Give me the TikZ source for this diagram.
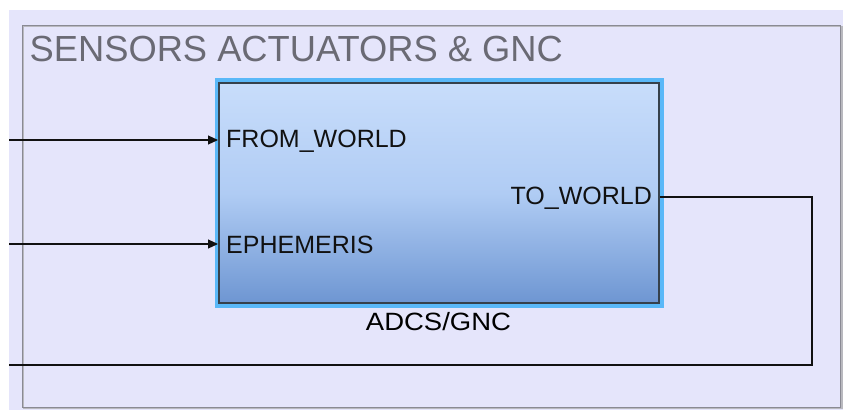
\documentclass[tikz,border=0pt]{standalone}
\usepackage{fontspec}
\setmainfont{Liberation Sans}
\usetikzlibrary{arrows.meta}
\definecolor{canvas}{HTML}{E5E5FB}
\definecolor{framegray}{HTML}{8A8A94}
\definecolor{titlegray}{HTML}{6A6A74}
\definecolor{glowblue}{HTML}{5AB8F8}
\definecolor{blockedge}{HTML}{36414C}
\definecolor{shadetop}{HTML}{C8DDFB}
\definecolor{shademid}{HTML}{B0CCF4}
\definecolor{shadebot}{HTML}{6E96D2}
\definecolor{wire}{HTML}{111111}
\tikzset{
  portlabel/.style={font=\fontsize{25}{28}\selectfont, text=wire, inner sep=0pt},
  signal/.style={draw=wire, line width=1.1pt},
  signalarrow/.style={signal, -{Triangle[length=10pt,width=9pt]}},
}
\begin{document}
\begin{tikzpicture}[x=1pt,y=-1pt]
  \useasboundingbox (0,0) rectangle (843,410);
  % canvas and subsystem area
  \fill[white] (0,0) rectangle (843,410);
  \fill[canvas] (9,10) rectangle (843,410);
  \draw[framegray!60, line width=1.2pt] (23.5,26.5) rectangle (842,408.5);
  \draw[framegray, line width=1.2pt] (22.5,25.5) rectangle (840.5,407.5);
  \node[anchor=base west, inner sep=0pt, text=titlegray,
        font=\fontsize{36.3}{40}\selectfont] (title) at (29.5,61) {SENSORS ACTUATORS \& GNC};

  % ADCS/GNC block: highlight glow, shaded body, dark edge
  \fill[glowblue] (214.5,77.5) rectangle (663.5,308);
  \shade[top color=shadetop, bottom color=shadebot, middle color=shademid]
        (219,83) rectangle (659,303);
  \node[draw=blockedge, line width=2pt, minimum width=440pt, minimum height=220pt,
        inner sep=0pt] (blk) at (439,193) {};
  \node[anchor=base, inner sep=0pt, text=black,
        font=\fontsize{25}{28}\selectfont] (blkname) at (438.5,330)
        {\scalebox{1.1}[1]{ADCS/GNC}};

  % port labels
  \node[portlabel, anchor=base west] (pfrom) at (226,147) {FROM\_WORLD};
  \node[portlabel, anchor=base west] (peph) at (226,253) {EPHEMERIS};
  \node[portlabel, anchor=base east] (pto) at (652,204) {TO\_WORLD};

  % port anchors on the block edge
  \coordinate (inFrom) at (blk.west |- 0,140);
  \coordinate (inEph) at (blk.west |- 0,244);
  \coordinate (outTo) at (blk.east |- 0,197);

  % free wire ends at the canvas edge
  \coordinate (srcFrom) at (9,140);
  \coordinate (srcEph) at (9,244);
  \coordinate (dstTo) at (9,365);

  \draw[signalarrow] (srcFrom) -- (inFrom);
  \draw[signalarrow] (srcEph) -- (inEph);
  \draw[signal] (outTo) -- (812,197) -- (812,365) -- (dstTo);
\end{tikzpicture}
\end{document}
